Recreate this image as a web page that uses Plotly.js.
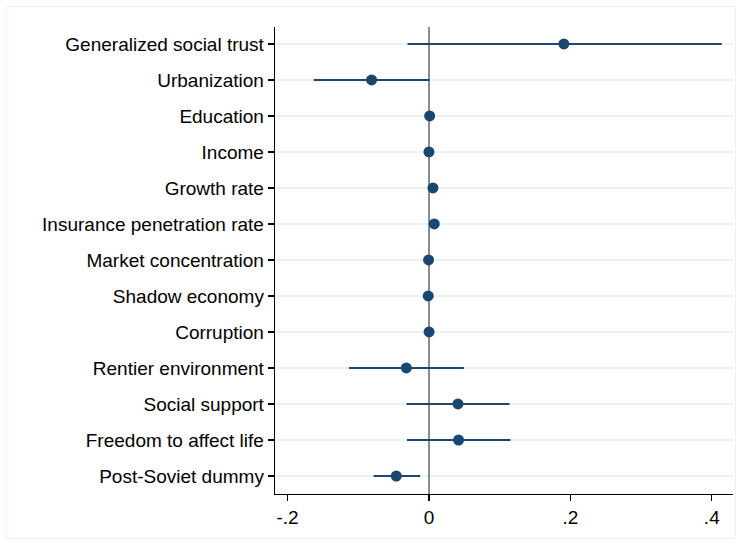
<!DOCTYPE html>
<html>
<head>
<meta charset="utf-8">
<script src="https://cdn.plot.ly/plotly-3.0.1.min.js"></script>
<style>
  html, body { margin: 0; padding: 0; background: #ffffff; }
  #wrap { position: relative; width: 744px; height: 547px; }
  #frame { position: absolute; left: 6px; top: 6px; width: 730px; height: 533px; border: 1px solid #eaf2f3; box-sizing: border-box; pointer-events: none; }
  #chart { position: absolute; left: 0; top: 0; width: 744px; height: 547px; }
</style>
</head>
<body>
<div id="wrap">
  <div id="chart"></div>
  <div id="frame"></div>
</div>
<script>
const categories = [
  "Generalized social trust",
  "Urbanization",
  "Education",
  "Income",
  "Growth rate",
  "Insurance penetration rate",
  "Market concentration",
  "Shadow economy",
  "Corruption",
  "Rentier environment",
  "Social support",
  "Freedom to affect life",
  "Post-Soviet dummy"
];
const estimates = [0.1908, -0.0811, 0.0010, 0.0000, 0.0057, 0.0075, -0.0005, -0.0010, 0.0002, -0.0320, 0.0410, 0.0419, -0.0462];
const ciLow     = [-0.0302, -0.1630, 0.0000, -0.0010, 0.0030, 0.0050, -0.0015, -0.0020, -0.0008, -0.1130, -0.0317, -0.0310, -0.0783];
const ciHigh    = [0.4140, 0.0010, 0.0020, 0.0010, 0.0085, 0.0100, 0.0005, 0.0000, 0.0012, 0.0495, 0.1140, 0.1153, -0.0123];
const xTickVals = [-0.2, 0, 0.2, 0.4];
const xTickText = ["-.2", "0", ".2", ".4"];

const navy = "#1a476f";
const plus = estimates.map((v, i) => ciHigh[i] - v);
const minus = estimates.map((v, i) => v - ciLow[i]);

const trace = {
  type: "scatter",
  mode: "markers",
  x: estimates,
  y: categories,
  marker: { color: navy, size: 11 },
  error_x: {
    type: "data",
    symmetric: false,
    array: plus,
    arrayminus: minus,
    color: navy,
    thickness: 2,
    width: 0
  },
  hoverinfo: "x+y",
  showlegend: false
};

const layout = {
  width: 744,
  height: 547,
  margin: { l: 275, r: 11, t: 27, b: 53 },
  paper_bgcolor: "#ffffff",
  plot_bgcolor: "#ffffff",
  font: { family: "Liberation Sans, Arial, sans-serif", color: "#000000", size: 19 },
  xaxis: {
    range: [-0.2177, 0.430],
    tickvals: xTickVals,
    ticktext: xTickText,
    showgrid: false,
    zeroline: true,
    zerolinecolor: "#8c8c8c",
    zerolinewidth: 2,
    showline: true,
    linecolor: "#000000",
    linewidth: 1.3,
    ticks: "outside",
    ticklen: 6,
    tickwidth: 1.3,
    tickcolor: "#000000",
    tickfont: { size: 19 },
    fixedrange: true
  },
  yaxis: {
    type: "category",
    categoryorder: "array",
    categoryarray: categories,
    range: [12.5, -0.47],
    showgrid: true,
    gridcolor: "#eaf2f3",
    gridwidth: 2,
    zeroline: false,
    showline: true,
    linecolor: "#000000",
    linewidth: 1.3,
    ticks: "outside",
    ticklen: 6,
    tickwidth: 1.3,
    tickcolor: "#000000",
    tickfont: { size: 19 },
    fixedrange: true
  }
};

Plotly.newPlot("chart", [trace], layout, { displayModeBar: false, staticPlot: true });
</script>
</body>
</html>
